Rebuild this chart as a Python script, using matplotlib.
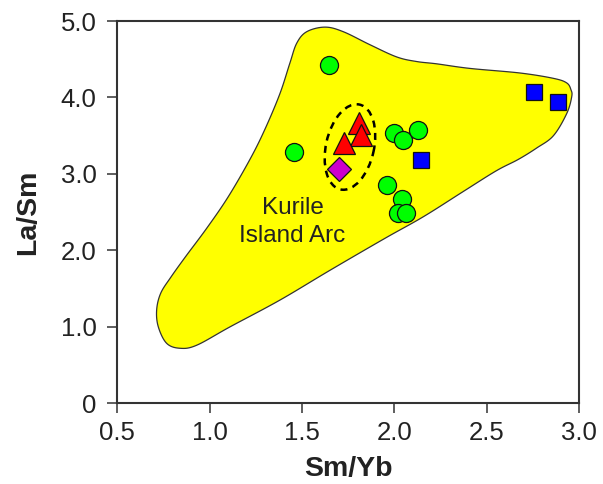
import numpy as np
import matplotlib
matplotlib.use("Agg")
import matplotlib.pyplot as plt
from matplotlib import transforms
from matplotlib.patches import Polygon, Ellipse

plt.rcParams['font.family'] = ['Liberation Sans', 'DejaVu Sans']

# Kurile island arc field outline (Sm/Yb, La/Sm), clockwise from the top
field_x = [1.624, 1.723, 1.867, 2.012, 2.120, 2.228, 2.408, 2.679, 2.860, 2.932,
           2.955, 2.959, 2.932, 2.860, 2.770, 2.670, 2.550, 2.372, 2.156, 1.950,
           1.651, 1.380, 1.110, 0.930, 0.839, 0.767, 0.722, 0.713, 0.735, 0.790,
           0.870, 0.984, 1.100, 1.220, 1.300, 1.380, 1.434, 1.471, 1.525]
field_y = [4.92, 4.86, 4.69, 4.53, 4.47, 4.44, 4.38, 4.32, 4.25, 4.19,
           4.10, 4.01, 3.79, 3.50, 3.34, 3.19, 3.04, 2.77, 2.44, 2.16,
           1.74, 1.35, 1.00, 0.76, 0.72, 0.785, 1.00, 1.22, 1.44, 1.65,
           1.92, 2.29, 2.70, 3.20, 3.59, 4.05, 4.45, 4.71, 4.86]

# samples
circle_x = [1.646, 1.458, 1.997, 2.048, 2.125, 1.961, 2.041, 2.021, 2.062]
circle_y = [4.42, 3.29, 3.53, 3.44, 3.57, 2.85, 2.67, 2.49, 2.485]
triangle_x = [1.810, 1.819, 1.728]
triangle_y = [3.67, 3.505, 3.40]
diamond_x = [1.701]
diamond_y = [3.06]
square_x = [2.755, 2.886, 2.143]
square_y = [4.07, 3.945, 3.18]

x_ticks = [0.5, 1.0, 1.5, 2.0, 2.5, 3.0]
y_ticks = [0, 1, 2, 3, 4, 5]
y_tick_labels = ['0', '1.0', '2.0', '3.0', '4.0', '5.0']


def smooth_closed(xs, ys, n=12):
    # closed Catmull-Rom curve through the outline points
    p = np.column_stack([xs, ys])
    m = len(p)
    out = []
    for i in range(m):
        p0, p1, p2, p3 = p[i - 1], p[i], p[(i + 1) % m], p[(i + 2) % m]
        for t in np.linspace(0, 1, n, endpoint=False):
            t2, t3 = t * t, t * t * t
            out.append(0.5 * ((2 * p1) + (-p0 + p2) * t
                              + (2 * p0 - 5 * p1 + 4 * p2 - p3) * t2
                              + (-p0 + 3 * p1 - 3 * p2 + p3) * t3))
    return np.array(out)


fig = plt.figure(figsize=(6.03, 4.84), dpi=100)
ax = fig.add_axes([0.1945, 0.1667, 0.7662, 0.7899])

ax.add_patch(Polygon(smooth_closed(field_x, field_y), closed=True,
                     facecolor='#ffff00', edgecolor='#333333', lw=0.9, zorder=1))

# dashed ellipse around the triangles and diamond (size in inches)
ell_trans = fig.dpi_scale_trans + transforms.ScaledTranslation(1.759, 3.352, ax.transData)
ax.add_patch(Ellipse((0, 0), width=0.87, height=0.48, angle=77.3,
                     transform=ell_trans, fill=False, edgecolor='black',
                     lw=1.8, linestyle=(0, (2.8, 2.2)), zorder=2))

ax.text(1.448, 2.366, 'Kurile\nIsland Arc', ha='center', va='center',
        fontsize=17.5, color='#222222', linespacing=1.35, zorder=3)

mk = dict(linestyle='none', markeredgecolor='#111111', markeredgewidth=0.9, zorder=4)
ax.plot(circle_x, circle_y, marker='o', markersize=13, markerfacecolor='#00ff00', **mk)
ax.plot(triangle_x, triangle_y, marker='^', markersize=16.5, markerfacecolor='#ff0000', **mk)
ax.plot(diamond_x, diamond_y, marker='D', markersize=12, markerfacecolor='#cc00cc', **mk)
ax.plot(square_x, square_y, marker='s', markersize=12.2, markerfacecolor='#0000ff', **mk)

ax.set_xlim(0.5, 3.0)
ax.set_ylim(0, 5)
ax.set_xticks(x_ticks)
ax.set_xticklabels([f'{v:.1f}' for v in x_ticks])
ax.set_yticks(y_ticks)
ax.set_yticklabels(y_tick_labels)

for s in ax.spines.values():
    s.set_linewidth(1.5)
    s.set_color('#333333')
ax.tick_params(direction='out', length=7, width=1.1, color='#333333',
               labelsize=18.5, labelcolor='#222222')
ax.tick_params(axis='x', pad=6)
ax.tick_params(axis='y', pad=8)

ax.set_xlabel('Sm/Yb', fontsize=20.5, fontweight='bold', color='#222222', labelpad=8)
ax.set_ylabel('La/Sm', fontsize=20.5, fontweight='bold', color='#222222', labelpad=14)

fig.savefig('out.png', dpi=100)
